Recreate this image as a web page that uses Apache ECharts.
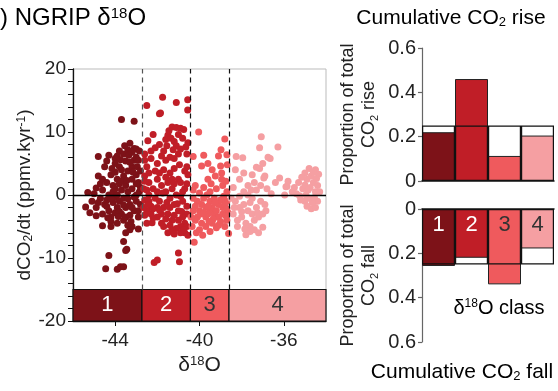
<!DOCTYPE html>
<html><head><meta charset="utf-8">
<script src="https://cdn.jsdelivr.net/npm/echarts@6/dist/echarts.min.js"></script>
<style>html,body{margin:0;padding:0;background:#fff}#c{width:558px;height:391px}</style>
</head><body><div id="c"></div>
<script>
// ---- data ----
const classNames = ['1', '2', '3', '4'];
const classColors = ['#7d1218', '#c01e27', '#ef5a5d', '#f59fa2'];
const classLabelColors = ['#ffffff', '#ffffff', '#333333', '#333333'];
const classBounds = [-42.73, -40.43, -38.6];
const xTicks = [-44, -40, -36];
const yTicks = [-20, -18, -16, -14, -12, -10, -8, -6, -4, -2, 0, 2, 4, 6, 8, 10, 12, 14, 16, 18, 20];
const riseProp = [0.22, 0.46, 0.113, 0.205];
const fallProp = [0.257, 0.22, 0.34, 0.178];
const uniformRef = [0.25, 0.25, 0.25, 0.25];

const class1 = [
[-45.4,-1.9],[-45.3,0.4],[-45.1,-1.0],[-45.2,-2.8],[-45.0,0.2],[-44.9,1.1],[-44.9,-3.3],[-44.9,-2.0],[-44.8,6.1],[-44.8,3.0],
[-44.7,-0.5],[-44.7,1.8],[-44.6,-4.9],[-44.6,2.5],[-44.6,-3.0],[-44.5,-1.5],[-44.5,4.5],[-44.4,5.4],[-44.4,2.0],[-44.4,-0.8],
[-44.3,6.3],[-44.3,0.0],[-44.3,-2.5],[-44.3,-9.6],[-44.45,-11.7],[-44.2,-3.5],[-44.2,3.2],[-44.2,-4.2],[-44.2,-5.0],[-44.1,1.5],
[-44.1,-1.2],[-44.1,0.5],[-44.0,5.8],[-44.0,5.0],[-44.0,-2.8],[-44.0,-0.3],[-43.9,2.5],[-43.9,0.0],[-43.9,-2.0],[-43.9,-4.5],
[-43.9,-11.8],[-43.8,4.5],[-43.8,1.8],[-43.8,-1.0],[-43.8,7.0],[-43.75,-11.4],[-43.7,12.0],[-43.7,0.8],[-43.7,-3.0],[-43.7,4.0],
[-43.6,6.5],[-43.6,3.0],[-43.6,-0.5],[-43.6,-4.0],[-43.6,-7.4],[-43.6,-11.4],[-43.5,5.4],[-43.5,1.5],[-43.5,-2.0],[-43.5,-3.5],
[-43.5,-6.0],[-43.45,-8.6],[-43.4,7.2],[-43.4,3.8],[-43.4,0.5],[-43.4,-4.8],[-43.35,6.3],[-43.3,8.2],[-43.3,-1.5],[-43.3,-3.2],
[-43.3,-5.5],[-43.2,4.5],[-43.2,2.5],[-43.2,1.0],[-43.2,-5.0],[-43.1,11.7],[-43.1,7.4],[-43.1,5.5],[-43.1,-2.5],[-43.0,7.3],
[-43.0,6.0],[-43.0,3.2],[-43.0,0.0],[-43.0,-1.0],[-42.95,4.5],[-42.9,2.0],[-42.9,-3.5],[-42.9,-2.5],[-42.9,-5.4],[-42.85,7.0],
[-42.85,0.5],[-42.8,-1.5],[-42.8,3.8],[-42.8,1.2],[-44.6,0.8],[-44.4,-1.8],[-44.0,1.0],[-43.8,-2.6],[-43.4,-0.6],[-43.1,-0.3],
[-44.2,-0.6],[-43.7,2.2],[-43.2,-2.0],[-44.8,-1.2],[-43.6,-1.6],[-43.0,1.8],[-43.5,-8.8],[-44.0,3.6],[-43.3,5.2],[-43.9,6.2],
[-43.55,7.8],[-43.2,6.8],[-44.15,4.2],[-43.75,5.6],[-43.45,2.3],[-43.15,3.6],[-42.9,5.5],[-44.35,-3.6],[-43.85,-3.4],[-43.25,-4.2]
];
const class2 = [
[-42.5,14.2],[-41.75,15.5],[-41.85,13.0],[-41.1,14.7],[-40.56,15.1],[-40.56,13.5],[-41.9,12.9],[-42.2,9.6],[-42.45,8.6],[-42.1,7.5],
[-41.3,10.8],[-41.1,10.7],[-40.9,10.6],[-40.75,10.4],[-41.6,8.8],[-41.5,9.5],[-41.35,9.0],[-41.2,8.5],[-41.1,7.8],[-40.9,7.3],
[-40.55,8.3],[-40.6,6.5],[-40.55,3.2],[-40.6,1.8],[-40.8,0.5],[-41.0,2.5],[-41.2,4.2],[-41.4,3.5],[-41.6,5.5],[-41.8,6.2],
[-42.0,5.0],[-42.3,5.8],[-42.5,4.5],[-42.6,3.0],[-42.4,2.0],[-42.2,1.0],[-42.0,2.5],[-41.8,1.5],[-41.6,0.5],[-41.4,-0.5],
[-41.2,-1.5],[-41.0,-2.5],[-40.8,-1.0],[-40.6,-3.0],[-40.7,-4.5],[-40.9,-5.0],[-41.1,-5.3],[-40.55,-6.4],[-40.7,-6.0],[-41.5,-6.0],
[-41.3,-4.0],[-41.5,-3.0],[-41.7,-2.0],[-41.9,-1.0],[-42.1,-0.5],[-42.3,-1.8],[-42.5,-2.5],[-42.6,-0.8],[-42.65,1.0],[-42.5,-4.5],
[-42.25,-4.4],[-42.15,-10.7],[-42.0,-10.3],[-41.0,-9.2],[-40.95,-10.6],[-42.0,-3.5],[-41.8,-4.5],[-41.6,-3.8],[-42.4,0.0],[-41.9,3.5],
[-41.7,4.0],[-41.5,2.0],[-41.3,1.0],[-41.1,0.0],[-40.9,-0.2],[-40.7,1.0],[-42.6,6.5],[-42.3,7.0],[-41.9,8.0],[-41.7,7.0],
[-41.4,6.0],[-41.2,5.8],[-40.95,4.8],[-40.7,3.8],[-42.0,-2.0],[-42.6,-3.2],[-40.6,-1.8],[-41.2,-3.2],[-42.6,2.2],[-42.5,0.8],
[-42.4,-1.0],[-42.3,-3.0],[-42.2,-2.2],[-42.0,0.5],[-41.8,-3.0],[-41.4,-2.0],[-41.0,-4.0],[-40.8,-3.5],[-40.6,-5.0],[-41.3,-5.5],
[-41.7,-5.0],[-42.65,-2.0],[-42.1,3.8],[-41.3,2.5],[-40.9,2.0],[-40.6,4.5],[-41.0,6.5],[-41.6,2.8],[-42.4,3.5],[-42.6,5.5],
[-41.45,10.2],[-41.0,9.6],[-40.8,9.0],[-41.25,7.2],[-40.65,7.6],[-41.55,7.8],[-41.2,-6.2],[-40.9,-6.0],[-41.4,-4.8],[-40.75,-5.5],
[-42.2,-3.6],[-41.9,-2.4],[-41.55,-1.2],[-41.05,-1.4],[-40.85,-2.6],[-42.45,-1.5],[-41.75,0.3],[-41.2,1.8]
];
const class3 = [
[-40.04,10.0],[-38.8,8.9],[-38.98,7.2],[-39.8,6.3],[-40.3,6.1],[-39.1,6.2],[-38.7,6.4],[-38.68,4.8],[-39.9,4.6],[-39.4,4.0],
[-39.25,3.0],[-38.95,3.5],[-39.6,2.5],[-40.2,1.5],[-40.25,-7.5],[-39.85,-6.4],[-38.62,-6.1],[-39.5,-5.8],[-39.2,-5.2],[-40.3,-0.5],
[-40.1,-1.0],[-39.9,-1.5],[-39.7,-2.0],[-39.5,-2.5],[-39.3,-3.0],[-39.1,-3.5],[-38.9,-2.0],[-38.7,-1.0],[-40.3,-2.5],[-40.1,-3.5],
[-39.9,-4.5],[-39.7,-3.5],[-39.5,-1.0],[-39.3,-0.5],[-39.1,-1.5],[-38.9,-3.0],[-38.7,-4.0],[-40.2,-4.0],[-40.0,-2.5],[-39.8,-0.5],
[-39.6,-3.0],[-39.4,-2.0],[-39.2,-2.5],[-39.0,-0.8],[-38.8,-1.5],[-38.65,-2.8],[-40.35,-5.0],[-40.0,-5.5],[-39.7,-5.0],[-39.4,-4.5],
[-39.1,-4.8],[-38.8,-5.0],[-38.7,0.5],[-38.9,1.5],[-39.2,1.0],[-39.5,0.5],[-39.8,1.2],[-40.0,0.3],[-39.6,-1.8],[-39.35,-3.8],
[-38.75,-3.3],[-40.15,-6.0],[-39.95,-3.0],[-38.95,2.5],[-39.45,1.8],[-39.0,-4.2],[-38.7,-2.2],[-40.2,-1.8],[-39.8,-2.8],[-40.4,-3.5],
[-39.55,-4.2],[-39.25,-1.2],[-38.85,-0.2],[-39.65,0.0],[-40.3,0.8],[-39.0,4.6],[-39.6,5.0],[-38.75,2.2]
];
const class4 = [
[-37.07,9.25],[-36.28,7.6],[-37.15,7.5],[-36.75,6.0],[-36.65,5.8],[-37.95,5.9],[-38.26,6.1],[-37.3,4.4],[-37.15,4.2],[-37.0,5.0],
[-36.9,3.0],[-36.95,2.7],[-36.2,2.7],[-35.85,1.4],[-35.96,0.0],[-37.8,-6.3],[-37.0,-5.1],[-37.5,3.2],[-37.7,1.5],[-38.1,2.5],
[-38.4,1.2],[-38.5,-0.5],[-38.3,-1.0],[-38.1,-2.0],[-37.9,-1.5],[-37.7,-2.5],[-37.5,-3.0],[-37.3,-2.0],[-37.1,-1.0],[-36.9,-1.5],
[-38.4,-3.0],[-38.2,-4.0],[-38.0,-3.5],[-37.8,-4.5],[-37.6,-5.0],[-37.4,-4.0],[-37.2,-3.5],[-37.0,-3.0],[-36.85,-2.5],[-37.5,-0.5],
[-37.7,0.0],[-37.9,0.5],[-38.1,-0.2],[-37.3,0.8],[-37.1,1.5],[-37.6,-5.8],[-37.4,-5.5],[-37.2,-6.0],[-38.2,-5.0],[-37.4,2.0],
[-36.8,1.0],[-36.6,0.2],[-37.9,3.5],[-38.3,4.0],[-36.4,2.0],[-35.8,2.2],[-35.5,1.2],[-35.3,2.0],[-35.1,1.0],[-34.9,2.5],
[-34.7,3.0],[-34.5,4.0],[-34.8,4.2],[-35.0,3.5],[-34.6,2.0],[-34.4,1.5],[-34.5,0.5],[-34.8,-0.5],[-35.0,-1.0],[-34.9,-1.8],
[-34.7,-2.2],[-34.5,-2.0],[-34.4,-1.0],[-35.2,-0.8],[-34.95,0.0],[-34.65,-1.2],[-35.4,0.2],[-35.6,0.5],[-34.35,3.3],[-34.6,3.6],
[-35.15,2.8],[-34.75,1.2],[-34.3,0.5],[-35.0,1.6],[-35.9,1.3],[-38.0,-2.6],[-37.6,-1.2],[-37.25,-2.8],[-37.85,-5.4],[-38.35,-2.0],
[-37.55,0.8],[-34.85,0.8],[-34.55,-0.4],[-35.25,-0.1],[-34.45,2.6]
];

// ---- chart ----
const FONT = 'Liberation Sans, Arial, sans-serif';
const TXT = '#222';
const rich = (fs) => ({
  n: {fontSize: fs, fontFamily: FONT, color: TXT},
  sub: {fontSize: Math.round(fs * 0.62), fontFamily: FONT, color: TXT, verticalAlign: 'bottom'},
  sup: {fontSize: Math.round(fs * 0.62), fontFamily: FONT, color: TXT, verticalAlign: 'top'}
});

const classData = [class1, class2, class3, class4];
const xMin = -46, xMax = -34;
const bandEdges = [xMin, classBounds[0], classBounds[1], classBounds[2], xMax];

const scatterSeries = classData.map((d, i) => ({
  type: 'scatter', xAxisIndex: 0, yAxisIndex: 0, data: d,
  symbolSize: 7, itemStyle: {color: classColors[i], opacity: 1},
  silent: true, animation: false, z: 2
}));
scatterSeries[0].markArea = {
  silent: true,
  data: classNames.map((n, i) => [
    {xAxis: bandEdges[i], yAxis: -20,
     itemStyle: {color: classColors[i], borderColor: '#111', borderWidth: 1.2, opacity: 1},
     label: {show: true, position: 'inside', formatter: n, fontSize: 22, fontFamily: FONT, color: classLabelColors[i]}},
    {xAxis: bandEdges[i + 1], yAxis: -15}
  ])
};
scatterSeries[3].markLine = {
  silent: true, symbol: ['none', 'none'], animation: false,
  label: {show: false},
  data: classBounds.map((b, i) => [
    {coord: [b, -15], lineStyle: {type: [5, 4], color: i === 0 ? '#555' : '#111', width: 1.2}},
    {coord: [b, 20]}
  ]).concat([{yAxis: 0, lineStyle: {type: 'solid', color: '#000', width: 1.3}}])
};

const barGridCommon = {left: 422, width: 132, height: 133};
const barY = (inverse, gi) => ({
  type: 'value', gridIndex: gi, min: 0, max: 0.6, interval: 0.2, inverse: inverse,
  splitLine: {show: false},
  axisLine: {show: true, lineStyle: {color: '#666', width: 1.2}},
  axisTick: {show: true, length: 4, lineStyle: {color: '#666', width: 1.2}},
  axisLabel: {fontSize: 20, fontFamily: FONT, color: TXT, margin: 6,
    formatter: v => (v === 0 ? '0' : v.toFixed(1))},
  nameLocation: 'middle', nameRotate: 90, nameGap: 42,
  nameTextStyle: {fontSize: 18, fontFamily: FONT, color: TXT, lineHeight: 21, rich: rich(18)}
});

const option = {
  animation: false,
  backgroundColor: '#fff',
  grid: [
    {left: 73, top: 69, width: 253, height: 252, show: true, borderColor: '#bbb', borderWidth: 1, backgroundColor: '#fff'},
    Object.assign({top: 48}, barGridCommon),
    Object.assign({top: 209}, barGridCommon)
  ],
  xAxis: [
    {type: 'value', gridIndex: 0, min: xMin, max: xMax,
     splitLine: {show: false},
     axisLine: {show: true, onZero: false, lineStyle: {color: '#111', width: 1.3}},
     axisTick: {show: true, length: 5, customValues: xTicks, lineStyle: {color: '#111'}},
     axisLabel: {fontSize: 19, fontFamily: FONT, color: TXT, margin: 10, customValues: xTicks},
     name: '{n|δ}{sup|18}{n|O}', nameLocation: 'middle', nameGap: 33,
     nameTextStyle: {fontSize: 21, fontFamily: FONT, color: TXT, rich: rich(21)}},
    {type: 'category', gridIndex: 1, data: classNames,
     axisLine: {show: true, lineStyle: {color: '#111', width: 1.5}},
     axisTick: {show: false}, axisLabel: {show: false}},
    {type: 'category', gridIndex: 2, data: classNames, position: 'top',
     axisLine: {show: true, lineStyle: {color: '#111', width: 1.5}},
     axisTick: {show: false}, axisLabel: {show: false}}
  ],
  yAxis: [
    {type: 'value', gridIndex: 0, min: -20, max: 20, interval: 10,
     splitLine: {show: false},
     axisLine: {show: true, onZero: false, lineStyle: {color: '#111', width: 1.3}},
     axisTick: {show: true, length: 5, customValues: yTicks, lineStyle: {color: '#111'}},
     axisLabel: {fontSize: 19, fontFamily: FONT, color: TXT, margin: 7},
     name: '{n|dCO}{sub|2}{n|/dt (ppmv.kyr}{sup|-1}{n|)}', nameLocation: 'middle', nameRotate: 90, nameGap: 36,
     nameTextStyle: {fontSize: 19, fontFamily: FONT, color: TXT, rich: rich(19)}},
    Object.assign(barY(false, 1), {name: '{n|Proportion of total}\n{n|CO}{sub|2}{n| rise}'}),
    Object.assign(barY(true, 2), {name: '{n|Proportion of total}\n{n|CO}{sub|2}{n| fall}'})
  ],
  series: scatterSeries.concat([
    {type: 'bar', xAxisIndex: 1, yAxisIndex: 1, barWidth: '100%', data: riseProp.map((v, i) => ({value: v, itemStyle: {color: classColors[i]}})),
     itemStyle: {borderColor: '#222', borderWidth: 1}, silent: true, z: 2},
    {type: 'bar', xAxisIndex: 1, yAxisIndex: 1, barWidth: '100%', barGap: '-100%', data: uniformRef,
     itemStyle: {color: 'rgba(0,0,0,0)', borderColor: '#111', borderWidth: 1.2}, silent: true, z: 3},
    {type: 'bar', xAxisIndex: 2, yAxisIndex: 2, barWidth: '100%', data: fallProp.map((v, i) => ({value: v, itemStyle: {color: classColors[i]},
       label: {color: classLabelColors[i]}})),
     itemStyle: {borderColor: '#222', borderWidth: 1}, silent: true, z: 2,
     label: {show: true, position: 'insideTop', distance: 5, fontSize: 22, fontFamily: FONT,
       formatter: p => classNames[p.dataIndex]}},
    {type: 'bar', xAxisIndex: 2, yAxisIndex: 2, barWidth: '100%', barGap: '-100%', data: uniformRef,
     itemStyle: {color: 'rgba(0,0,0,0)', borderColor: '#111', borderWidth: 1.2}, silent: true, z: 3}
  ]),
  graphic: [
    {type: 'text', x: 0, y: 18, style: {text: '{n|) NGRIP δ}{sup|18}{n|O}', rich: rich(24), verticalAlign: 'middle', align: 'left'}},
    {type: 'text', x: 451, y: 18, style: {text: '{n|Cumulative CO}{sub|2}{n| rise}', rich: rich(21), verticalAlign: 'middle', align: 'center'}},
    {type: 'text', x: 499, y: 308, style: {text: '{n|δ}{sup|18}{n|O class}', rich: rich(20), verticalAlign: 'middle', align: 'center'}},
    {type: 'text', x: 462, y: 372, style: {text: '{n|Cumulative CO}{sub|2}{n| fall}', rich: rich(21), verticalAlign: 'middle', align: 'center'}}
  ]
};

const chart = echarts.init(document.getElementById('c'), null, {renderer: 'canvas'});
chart.setOption(option);
</script>
</body></html>
